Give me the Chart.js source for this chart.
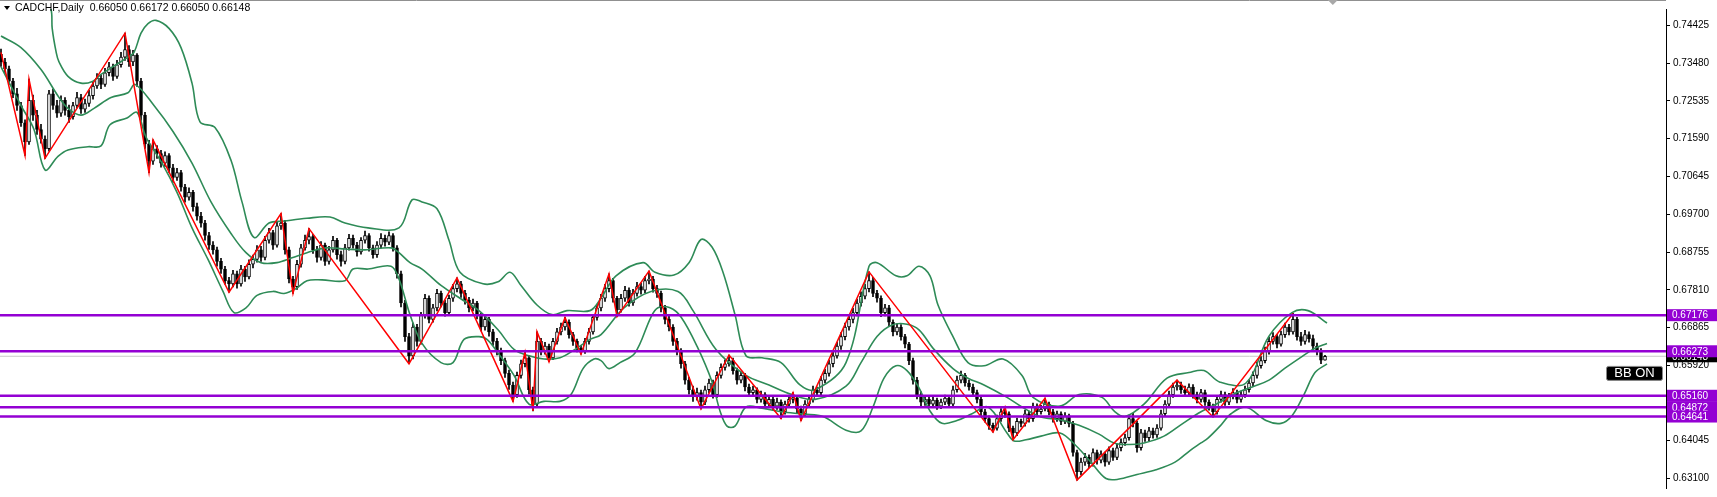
<!DOCTYPE html>
<html>
<head>
<meta charset="utf-8">
<script src="https://cdn.jsdelivr.net/npm/chart.js@4.4.1/dist/chart.umd.min.js"></script>
<style>
  html, body { margin: 0; padding: 0; background: #fff; }
  #wrap { width: 1717px; height: 497px; }
</style>
</head>
<body>
<div id="wrap"><canvas id="chart" width="1717" height="497"></canvas></div>
<script>
// CADCHF Daily: velas, Bollinger, ZigZag y niveles horizontales
const symbolTitle = 'CADCHF,Daily';
const lastQuote = ['0.66050', '0.66172', '0.66050', '0.66148'];

// velas diarias (indice de barra = posicion)
const opens = [
  0.7370,0.7351,0.7334,0.7303,0.7271,0.7242,0.7199,0.7151,0.7255,0.7218,
  0.7182,0.7158,0.7134,0.7271,0.7242,0.7223,0.7255,0.7230,0.7214,0.7242,
  0.7262,0.7233,0.7247,0.7267,0.7291,0.7310,0.7295,0.7324,0.7339,0.7315,
  0.7344,0.7363,0.7382,0.7351,0.7368,0.7303,0.7218,0.7146,0.7103,0.7134,
  0.7122,0.7098,0.7117,0.7086,0.7062,0.7074,0.7038,0.7013,0.7025,0.6989,
  0.6965,0.6948,0.6917,0.6893,0.6881,0.6852,0.6833,0.6804,0.6796,0.6821,
  0.6796,0.6833,0.6813,0.6845,0.6857,0.6881,0.6862,0.6905,0.6924,0.6893,
  0.6941,0.6948,0.6881,0.6808,0.6789,0.6845,0.6886,0.6905,0.6914,0.6881,
  0.6862,0.6893,0.6852,0.6881,0.6905,0.6869,0.6852,0.6886,0.6910,0.6893,
  0.6876,0.6905,0.6917,0.6886,0.6869,0.6893,0.6910,0.6900,0.6917,0.6886,
  0.6821,0.6748,0.6664,0.6616,0.6688,0.6652,0.6717,0.6760,0.6707,0.6736,
  0.6772,0.6748,0.6724,0.6760,0.6784,0.6796,0.6772,0.6755,0.6736,0.6748,
  0.6717,0.6688,0.6707,0.6676,0.6652,0.6628,0.6604,0.6572,0.6543,0.6519,
  0.6567,0.6596,0.6611,0.6531,0.6495,0.6652,0.6628,0.6640,0.6611,0.6652,
  0.6676,0.6688,0.6700,0.6669,0.6652,0.6635,0.6628,0.6652,0.6676,0.6712,
  0.6736,0.6760,0.6784,0.6804,0.6760,0.6731,0.6760,0.6780,0.6748,0.6772,
  0.6789,0.6780,0.6804,0.6808,0.6784,0.6772,0.6736,0.6707,0.6688,0.6652,
  0.6628,0.6596,0.6555,0.6531,0.6514,0.6524,0.6500,0.6531,0.6548,0.6519,
  0.6567,0.6587,0.6596,0.6604,0.6579,0.6555,0.6567,0.6538,0.6524,0.6531,
  0.6507,0.6519,0.6495,0.6507,0.6490,0.6500,0.6476,0.6495,0.6507,0.6510,
  0.6483,0.6471,0.6495,0.6507,0.6531,0.6524,0.6555,0.6572,0.6596,0.6616,
  0.6640,0.6664,0.6688,0.6707,0.6724,0.6748,0.6765,0.6784,0.6804,0.6772,
  0.6760,0.6724,0.6736,0.6700,0.6676,0.6688,0.6664,0.6645,0.6604,0.6555,
  0.6519,0.6500,0.6507,0.6495,0.6505,0.6490,0.6500,0.6510,0.6495,0.6531,
  0.6555,0.6567,0.6548,0.6538,0.6524,0.6507,0.6476,0.6459,0.6442,0.6435,
  0.6459,0.6476,0.6471,0.6435,0.6423,0.6452,0.6447,0.6471,0.6459,0.6490,
  0.6476,0.6483,0.6495,0.6476,0.6459,0.6471,0.6452,0.6466,0.6447,0.6374,
  0.6326,0.6350,0.6362,0.6346,0.6374,0.6355,0.6370,0.6350,0.6379,0.6362,
  0.6386,0.6399,0.6411,0.6459,0.6447,0.6386,0.6423,0.6411,0.6428,0.6418,
  0.6435,0.6471,0.6495,0.6519,0.6538,0.6543,0.6531,0.6524,0.6538,0.6519,
  0.6507,0.6524,0.6500,0.6490,0.6476,0.6507,0.6519,0.6500,0.6514,0.6524,
  0.6507,0.6519,0.6531,0.6548,0.6567,0.6591,0.6604,0.6628,0.6652,0.6664,
  0.6645,0.6669,0.6688,0.6676,0.6707,0.6664,0.6652,0.6669,0.6659,0.6640,
  0.6628,0.66050
];
const highs = [
  0.7383,0.7360,0.7341,0.7310,0.7285,0.7250,0.7206,0.7308,0.7268,0.7230,
  0.7195,0.7166,0.7280,0.7283,0.7255,0.7266,0.7262,0.7243,0.7250,0.7275,
  0.7270,0.7258,0.7280,0.7300,0.7322,0.7318,0.7335,0.7350,0.7346,0.7355,
  0.7375,0.7423,0.7392,0.7380,0.7372,0.7310,0.7225,0.7155,0.7156,0.7142,
  0.7130,0.7126,0.7122,0.7095,0.7085,0.7080,0.7045,0.7036,0.7030,0.6998,
  0.6975,0.6955,0.6925,0.6902,0.6888,0.6860,0.6840,0.6812,0.6830,0.6828,
  0.6842,0.6840,0.6856,0.6868,0.6892,0.6890,0.6915,0.6935,0.6930,0.6950,
  0.6972,0.6955,0.6888,0.6815,0.6855,0.6895,0.6918,0.6934,0.6920,0.6890,
  0.6902,0.6898,0.6890,0.6915,0.6910,0.6878,0.6895,0.6920,0.6918,0.6900,
  0.6912,0.6928,0.6922,0.6893,0.6902,0.6922,0.6918,0.6926,0.6922,0.6892,
  0.6828,0.6755,0.6672,0.6698,0.6695,0.6725,0.6770,0.6766,0.6745,0.6782,
  0.6778,0.6755,0.6768,0.6795,0.6811,0.6802,0.6780,0.6762,0.6758,0.6752,
  0.6722,0.6716,0.6712,0.6682,0.6660,0.6635,0.6610,0.6580,0.6550,0.6575,
  0.6605,0.6625,0.6616,0.6538,0.6676,0.6660,0.6650,0.6645,0.6660,0.6685,
  0.6698,0.6712,0.6706,0.6675,0.6658,0.6642,0.6660,0.6685,0.6720,0.6745,
  0.6770,0.6795,0.6821,0.6810,0.6765,0.6770,0.6790,0.6786,0.6782,0.6800,
  0.6798,0.6815,0.6828,0.6815,0.6792,0.6778,0.6742,0.6715,0.6694,0.6660,
  0.6634,0.6602,0.6562,0.6540,0.6535,0.6530,0.6540,0.6558,0.6555,0.6576,
  0.6596,0.6606,0.6618,0.6610,0.6585,0.6575,0.6572,0.6545,0.6540,0.6536,
  0.6528,0.6524,0.6515,0.6512,0.6510,0.6506,0.6503,0.6516,0.6524,0.6515,
  0.6490,0.6504,0.6516,0.6540,0.6538,0.6564,0.6582,0.6605,0.6626,0.6650,
  0.6674,0.6698,0.6718,0.6735,0.6758,0.6776,0.6795,0.6826,0.6812,0.6780,
  0.6766,0.6745,0.6742,0.6706,0.6696,0.6694,0.6670,0.6650,0.6610,0.6562,
  0.6526,0.6515,0.6512,0.6514,0.6510,0.6508,0.6518,0.6515,0.6540,0.6565,
  0.6578,0.6572,0.6555,0.6545,0.6530,0.6512,0.6482,0.6466,0.6448,0.6468,
  0.6484,0.6488,0.6476,0.6440,0.6460,0.6458,0.6480,0.6478,0.6498,0.6496,
  0.6492,0.6510,0.6500,0.6482,0.6478,0.6476,0.6474,0.6470,0.6452,0.6380,
  0.6360,0.6372,0.6368,0.6383,0.6380,0.6378,0.6375,0.6388,0.6385,0.6395,
  0.6408,0.6420,0.6468,0.6472,0.6452,0.6432,0.6430,0.6437,0.6435,0.6444,
  0.6480,0.6504,0.6528,0.6548,0.6555,0.6550,0.6540,0.6546,0.6544,0.6525,
  0.6532,0.6530,0.6506,0.6495,0.6515,0.6528,0.6525,0.6522,0.6534,0.6530,
  0.6528,0.6540,0.6556,0.6576,0.6600,0.6614,0.6638,0.6662,0.6674,0.6670,
  0.6678,0.6698,0.6695,0.6722,0.6712,0.6675,0.6680,0.6676,0.6668,0.6648,
  0.6634,0.66172
];
const lows = [
  0.7340,0.7322,0.7295,0.7262,0.7230,0.7190,0.7117,0.7145,0.7205,0.7170,
  0.7148,0.7110,0.7128,0.7232,0.7212,0.7215,0.7218,0.7200,0.7208,0.7236,
  0.7222,0.7225,0.7240,0.7258,0.7285,0.7284,0.7290,0.7316,0.7305,0.7310,
  0.7338,0.7355,0.7340,0.7342,0.7290,0.7205,0.7135,0.7074,0.7095,0.7110,
  0.7088,0.7090,0.7075,0.7050,0.7055,0.7028,0.7000,0.7005,0.6978,0.6955,
  0.6938,0.6905,0.6882,0.6870,0.6840,0.6822,0.6795,0.6775,0.6788,0.6785,
  0.6790,0.6802,0.6808,0.6836,0.6850,0.6852,0.6856,0.6898,0.6882,0.6888,
  0.6932,0.6870,0.6798,0.6772,0.6782,0.6838,0.6880,0.6896,0.6872,0.6850,
  0.6855,0.6842,0.6845,0.6875,0.6858,0.6840,0.6846,0.6880,0.6885,0.6865,
  0.6870,0.6898,0.6878,0.6860,0.6862,0.6886,0.6890,0.6894,0.6878,0.6810,
  0.6738,0.6652,0.6596,0.6608,0.6640,0.6645,0.6710,0.6698,0.6700,0.6728,
  0.6738,0.6715,0.6718,0.6752,0.6776,0.6762,0.6745,0.6726,0.6728,0.6708,
  0.6678,0.6680,0.6665,0.6642,0.6618,0.6594,0.6562,0.6532,0.6502,0.6512,
  0.6560,0.6588,0.6520,0.6478,0.6490,0.6618,0.6620,0.6601,0.6606,0.6645,
  0.6668,0.6680,0.6660,0.6642,0.6626,0.6620,0.6622,0.6645,0.6670,0.6705,
  0.6728,0.6752,0.6776,0.6750,0.6714,0.6725,0.6752,0.6740,0.6742,0.6765,
  0.6770,0.6774,0.6796,0.6775,0.6762,0.6726,0.6696,0.6678,0.6642,0.6618,
  0.6585,0.6545,0.6520,0.6502,0.6505,0.6483,0.6494,0.6524,0.6510,0.6512,
  0.6560,0.6580,0.6590,0.6570,0.6545,0.6548,0.6528,0.6515,0.6516,0.6498,
  0.6500,0.6486,0.6488,0.6480,0.6482,0.6459,0.6470,0.6488,0.6498,0.6474,
  0.6454,0.6465,0.6488,0.6500,0.6515,0.6518,0.6548,0.6565,0.6588,0.6610,
  0.6632,0.6656,0.6680,0.6698,0.6716,0.6740,0.6758,0.6776,0.6764,0.6750,
  0.6714,0.6716,0.6690,0.6666,0.6668,0.6655,0.6636,0.6594,0.6545,0.6508,
  0.6490,0.6492,0.6486,0.6488,0.6482,0.6484,0.6494,0.6488,0.6490,0.6525,
  0.6548,0.6540,0.6530,0.6516,0.6498,0.6466,0.6450,0.6432,0.6425,0.6430,
  0.6452,0.6462,0.6426,0.6406,0.6416,0.6438,0.6440,0.6450,0.6452,0.6468,
  0.6470,0.6478,0.6468,0.6450,0.6452,0.6444,0.6446,0.6438,0.6365,0.6305,
  0.6318,0.6342,0.6336,0.6340,0.6345,0.6348,0.6340,0.6344,0.6354,0.6356,
  0.6378,0.6392,0.6405,0.6438,0.6375,0.6380,0.6402,0.6404,0.6410,0.6412,
  0.6430,0.6465,0.6488,0.6512,0.6530,0.6522,0.6515,0.6518,0.6510,0.6498,
  0.6500,0.6492,0.6480,0.6463,0.6470,0.6500,0.6492,0.6494,0.6508,0.6498,
  0.6500,0.6512,0.6525,0.6540,0.6560,0.6585,0.6598,0.6620,0.6645,0.6636,
  0.6640,0.6662,0.6668,0.6670,0.6655,0.6642,0.6645,0.6650,0.6632,0.6618,
  0.6596,0.66050
];
const closes = [
  0.7351,0.7334,0.7303,0.7271,0.7242,0.7199,0.7151,0.7255,0.7218,0.7182,
  0.7158,0.7134,0.7271,0.7242,0.7223,0.7255,0.7230,0.7214,0.7242,0.7262,
  0.7233,0.7247,0.7267,0.7291,0.7310,0.7295,0.7324,0.7339,0.7315,0.7344,
  0.7363,0.7382,0.7351,0.7368,0.7303,0.7218,0.7146,0.7103,0.7134,0.7122,
  0.7098,0.7117,0.7086,0.7062,0.7074,0.7038,0.7013,0.7025,0.6989,0.6965,
  0.6948,0.6917,0.6893,0.6881,0.6852,0.6833,0.6804,0.6796,0.6821,0.6796,
  0.6833,0.6813,0.6845,0.6857,0.6881,0.6862,0.6905,0.6924,0.6893,0.6941,
  0.6948,0.6881,0.6808,0.6789,0.6845,0.6886,0.6905,0.6914,0.6881,0.6862,
  0.6893,0.6852,0.6881,0.6905,0.6869,0.6852,0.6886,0.6910,0.6893,0.6876,
  0.6905,0.6917,0.6886,0.6869,0.6893,0.6910,0.6900,0.6917,0.6886,0.6821,
  0.6748,0.6664,0.6616,0.6688,0.6652,0.6717,0.6760,0.6707,0.6736,0.6772,
  0.6748,0.6724,0.6760,0.6784,0.6796,0.6772,0.6755,0.6736,0.6748,0.6717,
  0.6688,0.6707,0.6676,0.6652,0.6628,0.6604,0.6572,0.6543,0.6519,0.6567,
  0.6596,0.6611,0.6531,0.6495,0.6652,0.6628,0.6640,0.6611,0.6652,0.6676,
  0.6688,0.6700,0.6669,0.6652,0.6635,0.6628,0.6652,0.6676,0.6712,0.6736,
  0.6760,0.6784,0.6804,0.6760,0.6731,0.6760,0.6780,0.6748,0.6772,0.6789,
  0.6780,0.6804,0.6808,0.6784,0.6772,0.6736,0.6707,0.6688,0.6652,0.6628,
  0.6596,0.6555,0.6531,0.6514,0.6524,0.6500,0.6531,0.6548,0.6519,0.6567,
  0.6587,0.6596,0.6604,0.6579,0.6555,0.6567,0.6538,0.6524,0.6531,0.6507,
  0.6519,0.6495,0.6507,0.6490,0.6500,0.6476,0.6495,0.6507,0.6510,0.6483,
  0.6471,0.6495,0.6507,0.6531,0.6524,0.6555,0.6572,0.6596,0.6616,0.6640,
  0.6664,0.6688,0.6707,0.6724,0.6748,0.6765,0.6784,0.6804,0.6772,0.6760,
  0.6724,0.6736,0.6700,0.6676,0.6688,0.6664,0.6645,0.6604,0.6555,0.6519,
  0.6500,0.6507,0.6495,0.6505,0.6490,0.6500,0.6510,0.6495,0.6531,0.6555,
  0.6567,0.6548,0.6538,0.6524,0.6507,0.6476,0.6459,0.6442,0.6435,0.6459,
  0.6476,0.6471,0.6435,0.6423,0.6452,0.6447,0.6471,0.6459,0.6490,0.6476,
  0.6483,0.6495,0.6476,0.6459,0.6471,0.6452,0.6466,0.6447,0.6374,0.6326,
  0.6350,0.6362,0.6346,0.6374,0.6355,0.6370,0.6350,0.6379,0.6362,0.6386,
  0.6399,0.6411,0.6459,0.6447,0.6386,0.6423,0.6411,0.6428,0.6418,0.6435,
  0.6471,0.6495,0.6519,0.6538,0.6543,0.6531,0.6524,0.6538,0.6519,0.6507,
  0.6524,0.6500,0.6490,0.6476,0.6507,0.6519,0.6500,0.6514,0.6524,0.6507,
  0.6519,0.6531,0.6548,0.6567,0.6591,0.6604,0.6628,0.6652,0.6664,0.6645,
  0.6669,0.6688,0.6676,0.6707,0.6664,0.6652,0.6669,0.6659,0.6640,0.6628,
  0.6605,0.66148
];

// ZigZag (barra del pivote y precio)
const zzBars = [0, 6, 7, 11, 31, 37, 38, 57, 70, 73, 77, 102, 114, 128, 131, 133, 134, 137,
  141, 145, 152, 154, 162, 175, 182, 195, 198, 200, 217, 248, 251, 253, 261, 269, 294, 303, 323];
const zzPrices = [0.7375, 0.7117, 0.7308, 0.7110, 0.7423, 0.7074, 0.7156, 0.6775, 0.6972, 0.6772,
  0.6934, 0.6596, 0.6811, 0.6502, 0.6625, 0.6478, 0.6676, 0.6601, 0.6712, 0.6620, 0.6821, 0.6714,
  0.6828, 0.6483, 0.6618, 0.6459, 0.6524, 0.6454, 0.6826, 0.6425, 0.6488, 0.6406, 0.6510, 0.6305,
  0.6555, 0.6463, 0.6722];

// Bandas de Bollinger
const upperBars = [0, 6, 11, 12.5, 12.8, 13.8, 14.5, 16.75, 20, 23, 25, 28.75, 31.75, 33.25, 35,
  36.75, 38.75, 42, 45, 47.75, 49.75, 53.5, 57.5, 60.25, 63.25, 67, 70.75, 76.5, 82.25, 86, 91.75,
  99.5, 102.75, 105.25, 109, 112, 114.75, 120.5, 124.25, 127.25, 130, 134, 137.75, 141.5, 147.25,
  150, 153.75, 160.5, 163.5, 168.25, 172, 175, 177.75, 180.5, 183.5, 186.25, 190.25, 195, 199.75,
  203.5, 211.25, 217, 219, 223.75, 226.5, 229.5, 232.25, 234.25, 238, 241.75, 245.75, 250.5, 255.25,
  258, 264.75, 269.5, 275.25, 278.25, 281, 285.75, 291.5, 297, 300.75, 304.75, 311.25, 317, 322.75,
  326.75, 331.5];
const upperVals = [0.7493, 0.7532, 0.7503, 0.7483, 0.7435, 0.7375, 0.7351, 0.7315, 0.7298, 0.7303,
  0.7320, 0.7344, 0.7363, 0.7375, 0.7423, 0.7447, 0.7455, 0.7435, 0.7387, 0.7298,
  0.7201, 0.7187, 0.7105, 0.7001, 0.6912, 0.6948, 0.6953, 0.6960, 0.6963, 0.6948,
  0.6936, 0.6936, 0.7006, 0.7001, 0.6984, 0.6905, 0.6825, 0.6796, 0.6801, 0.6825,
  0.6792, 0.6743, 0.6719, 0.6729, 0.6729, 0.6760, 0.6816, 0.6849, 0.6825, 0.6818,
  0.6849, 0.6907, 0.6888, 0.6825, 0.6719, 0.6616, 0.6611, 0.6599, 0.6543, 0.6531,
  0.6599, 0.6840, 0.6849, 0.6816, 0.6816, 0.6840, 0.6816, 0.6743, 0.6664, 0.6599,
  0.6591, 0.6608, 0.6567, 0.6512, 0.6490, 0.6519, 0.6512, 0.6478, 0.6464, 0.6495,
  0.6560, 0.6574, 0.6579, 0.6550, 0.6548, 0.6665, 0.6724, 0.6729, 0.6698];

const middleBars = [0, 5, 10, 14.25, 16.75, 20, 23.25, 27.5, 31.75, 33.5, 38.25, 43, 47.75, 52.5,
  57.5, 61.25, 65, 69, 72.75, 76.5, 81.25, 86, 91, 97.5, 99.5, 102.25, 105.25, 110, 114.75, 119.5,
  124.25, 128.25, 132, 135.75, 139.75, 143.5, 147.25, 150, 155.75, 162.5, 169.25, 173, 178.75,
  186.25, 192, 197.75, 203.5, 211.25, 215, 219, 222.75, 226.5, 229.5, 233.25, 238, 241.75, 245.75,
  251.5, 255.25, 260, 264.75, 269.5, 274.5, 278.25, 282, 285.75, 290.75, 295.5, 300, 303.75, 309.5,
  313.25, 317, 321, 324.75, 328.5, 331.5];
const middleVals = [0.7416, 0.7387, 0.7332, 0.7266, 0.7235, 0.7218, 0.7235, 0.7262, 0.7274, 0.7295,
  0.7242, 0.7177, 0.7098, 0.7001, 0.6922, 0.6874, 0.6849, 0.6849, 0.6861, 0.6874,
  0.6886, 0.6883, 0.6881, 0.6886, 0.6874, 0.6849, 0.6833, 0.6792, 0.6760, 0.6729,
  0.6681, 0.6632, 0.6616, 0.6608, 0.6611, 0.6632, 0.6657, 0.6669, 0.6736, 0.6777,
  0.6777, 0.6729, 0.6632, 0.6567, 0.6543, 0.6519, 0.6507, 0.6540, 0.6599, 0.6664,
  0.6693, 0.6695, 0.6681, 0.6632, 0.6584, 0.6560, 0.6543, 0.6512, 0.6488, 0.6463,
  0.6456, 0.6442, 0.6420, 0.6398, 0.6394, 0.6398, 0.6415, 0.6447, 0.6476, 0.6495,
  0.6526, 0.6540, 0.6555, 0.6585, 0.6611, 0.6635, 0.6647];

const lowerBars = [0, 5, 8.25, 11, 14.25, 16.75, 21.75, 25, 27.25, 31.5, 34, 36.25, 40.25, 44,
  47.75, 51.75, 55.5, 58.25, 61.25, 64, 68, 70.75, 73.75, 76.5, 80.25, 86, 88, 91.75, 97.5, 99.5,
  102.25, 105.25, 110, 113, 115.75, 119.5, 121.5, 124.25, 128.25, 132, 135.75, 139.75, 142.5, 145.5,
  148.25, 150, 152, 154.75, 158.5, 162.5, 164.25, 167.25, 170, 174, 177.75, 179.75, 181.5, 183.5,
  186.25, 190.25, 195, 200.75, 205.5, 211.25, 215, 218, 220.75, 223.75, 226.5, 229.5, 232.25, 235.25,
  239, 242.75, 246.75, 251.5, 253.25, 256.25, 260, 264.75, 268.75, 272.5, 276.25, 279.25, 284,
  288.75, 293.5, 297.25, 300, 301.75, 304.75, 307.5, 311.25, 316.25, 320, 322.75, 325.75, 328.5, 331.5];
const lowerVals = [0.7339, 0.7242, 0.7182, 0.7081, 0.7115, 0.7131, 0.7139, 0.7141, 0.7194, 0.7211,
  0.7225, 0.7163, 0.7098, 0.7025, 0.6936, 0.6857, 0.6777, 0.6724, 0.6736, 0.6767,
  0.6777, 0.6772, 0.6784, 0.6804, 0.6806, 0.6804, 0.6833, 0.6833, 0.6840, 0.6808,
  0.6719, 0.6647, 0.6599, 0.6599, 0.6657, 0.6664, 0.6657, 0.6623, 0.6567, 0.6495,
  0.6502, 0.6502, 0.6519, 0.6584, 0.6608, 0.6604, 0.6584, 0.6599, 0.6623, 0.6713,
  0.6736, 0.6736, 0.6713, 0.6640, 0.6551, 0.6478, 0.6440, 0.6440, 0.6488, 0.6485,
  0.6476, 0.6470, 0.6464, 0.6430, 0.6428, 0.6488, 0.6560, 0.6591, 0.6579, 0.6536,
  0.6478, 0.6447, 0.6454, 0.6471, 0.6488, 0.6423, 0.6403, 0.6406, 0.6415, 0.6423,
  0.6391, 0.6350, 0.6309, 0.6307, 0.6319, 0.6331, 0.6350, 0.6379, 0.6398, 0.6410,
  0.6440, 0.6471, 0.6488, 0.6454, 0.6447, 0.6466, 0.6519, 0.6574, 0.6596];

// niveles horizontales y precio actual
const levels = [0.67176, 0.66273, 0.65160, 0.64872, 0.64641];
const currentPrice = 0.66148;
const priceTicks = [0.74425, 0.73480, 0.72535, 0.71590, 0.70645, 0.69700, 0.68755, 0.67810,
  0.66865, 0.65920, 0.64045, 0.63100];

// rango visible
const xMin = -0.25, xMax = 416.25;
const yMin = 0.62853, yMax = 0.74835;

const violet = '#9400d3';
const bandColor = '#2e8b57';

function pts(xs, ys) {
  return xs.map((x, i) => ({ x: x, y: ys[i] }));
}

const datasets = [];

// mechas
datasets.push({
  type: 'bar',
  data: lows.map((l, i) => ({ x: i, y: [l, highs[i]] })),
  backgroundColor: '#000',
  barThickness: 1,
  grouped: false,
  order: 6
});
// cuerpos
datasets.push({
  type: 'bar',
  data: opens.map((o, i) => ({ x: i, y: [o, closes[i]] })),
  backgroundColor: opens.map((o, i) => closes[i] >= o ? '#ffffff' : '#000000'),
  borderColor: '#000',
  borderWidth: 1,
  borderSkipped: false,
  barThickness: 3,
  grouped: false,
  order: 5
});
// bandas
[[upperBars, upperVals], [middleBars, middleVals], [lowerBars, lowerVals]].forEach(b => {
  datasets.push({
    type: 'line',
    data: pts(b[0], b[1]),
    borderColor: bandColor,
    borderWidth: 1.6,
    pointRadius: 0,
    tension: 0.35,
    order: 3
  });
});
// zigzag
datasets.push({
  type: 'line',
  data: pts(zzBars, zzPrices),
  borderColor: '#ff0000',
  borderWidth: 1.5,
  pointRadius: 0,
  tension: 0,
  order: 2
});
// precio actual
datasets.push({
  type: 'line',
  data: [{ x: xMin, y: currentPrice }, { x: xMax, y: currentPrice }],
  borderColor: '#c8c8c8',
  borderWidth: 1,
  pointRadius: 0,
  order: 8
});
// niveles
levels.forEach(l => {
  datasets.push({
    type: 'line',
    data: [{ x: xMin, y: l }, { x: xMax, y: l }],
    borderColor: violet,
    borderWidth: 2.5,
    pointRadius: 0,
    order: 0
  });
});

const overlay = {
  id: 'overlay',
  afterDraw(chart) {
    const { ctx, chartArea: a, scales } = chart;
    const y = scales.y;
    const W = chart.width;
    ctx.save();

    // marco superior
    ctx.strokeStyle = '#909090';
    ctx.lineWidth = 1;
    ctx.beginPath();
    ctx.moveTo(a.left, 0.5);
    ctx.lineTo(a.right, 0.5);
    ctx.stroke();

    // marca de desplazamiento
    const sx = a.left + (a.right - a.left) * 0.8;
    ctx.fillStyle = '#a8a8a8';
    ctx.beginPath();
    ctx.moveTo(sx - 5, 0);
    ctx.lineTo(sx + 5, 0);
    ctx.lineTo(sx, 5);
    ctx.closePath();
    ctx.fill();

    ctx.font = '10px "Liberation Sans", Arial, sans-serif';
    ctx.textBaseline = 'middle';

    // etiqueta del precio actual
    let py = y.getPixelForValue(currentPrice);
    ctx.fillStyle = '#000';
    ctx.fillRect(a.right + 1, py - 6, W - a.right - 1, 12);
    ctx.fillStyle = '#fff';
    ctx.fillText(currentPrice.toFixed(5), a.right + 6, py + 0.5);

    // etiquetas de niveles
    levels.forEach(l => {
      const ly = y.getPixelForValue(l);
      ctx.fillStyle = violet;
      ctx.fillRect(a.right + 1, ly - 6, W - a.right - 1, 12);
      ctx.fillStyle = '#fff';
      ctx.fillText(l.toFixed(5), a.right + 6, ly + 0.5);
    });

    // caja BB ON
    const bx = a.right - 60, bw = 56, bh = 14;
    const by = y.getPixelForValue(0.65920) + 0.5;
    ctx.fillStyle = '#000';
    ctx.strokeStyle = '#888';
    ctx.beginPath();
    ctx.roundRect(bx + 0.5, by + 0.5, bw, bh, 2);
    ctx.fill();
    ctx.stroke();
    ctx.fillStyle = '#fff';
    ctx.font = '13px "Liberation Sans", Arial, sans-serif';
    ctx.textAlign = 'center';
    ctx.fillText('BB ON', bx + bw / 2 + 0.5, by + bh / 2 + 1);

    // titulo
    ctx.textAlign = 'left';
    ctx.fillStyle = '#000';
    ctx.beginPath();
    ctx.moveTo(4, 6);
    ctx.lineTo(10, 6);
    ctx.lineTo(7, 10);
    ctx.closePath();
    ctx.fill();
    ctx.font = '10.5px "Liberation Sans", Arial, sans-serif';
    ctx.fillText(symbolTitle + '  ' + lastQuote.join(' '), 15, 8);

    ctx.restore();
  }
};

new Chart(document.getElementById('chart'), {
  type: 'bar',
  data: { datasets: datasets },
  options: {
    responsive: false,
    animation: false,
    events: [],
    layout: { padding: 0 },
    plugins: { legend: { display: false }, tooltip: { enabled: false } },
    scales: {
      x: {
        type: 'linear',
        min: xMin,
        max: xMax,
        display: false,
        offset: false
      },
      y: {
        type: 'linear',
        position: 'right',
        min: yMin,
        max: yMax,
        afterBuildTicks: s => { s.ticks = priceTicks.map(v => ({ value: v })); },
        afterFit: s => { s.width = 51; },
        ticks: {
          autoSkip: false,
          padding: 3,
          color: '#000',
          font: { family: '"Liberation Sans", Arial, sans-serif', size: 10 },
          callback: v => Number(v).toFixed(5)
        },
        grid: { drawOnChartArea: false, drawTicks: true, tickLength: 4, color: '#000' },
        border: { display: true, color: '#000' }
      }
    }
  },
  plugins: [overlay]
});
</script>
</body>
</html>
